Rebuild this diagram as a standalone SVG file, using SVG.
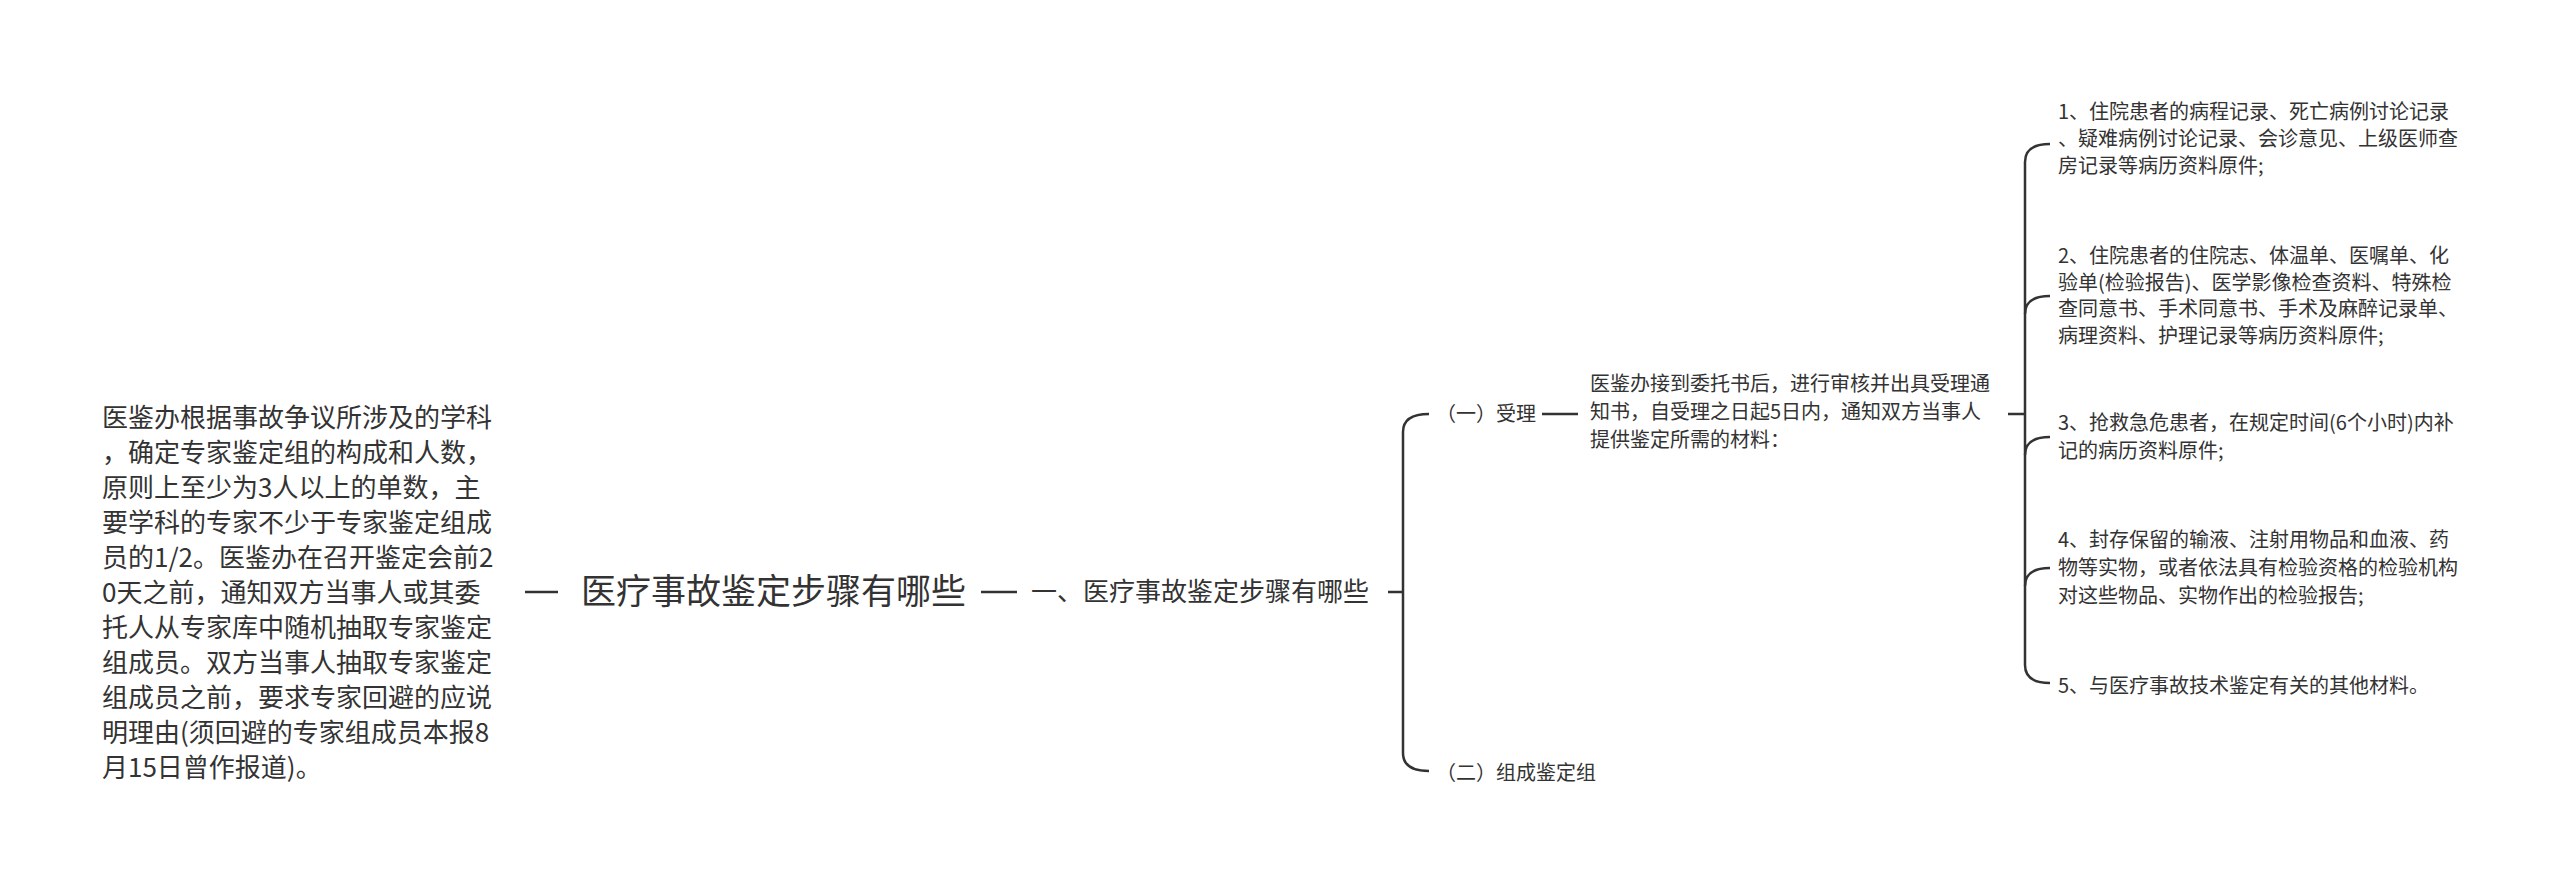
<svg xmlns="http://www.w3.org/2000/svg" width="2560" height="882" viewBox="0 0 2560 882">
<style>
text{font-family:"Noto Sans CJK SC","Liberation Sans",sans-serif;fill:#333}
.l{font-size:26px}.r{font-size:35px}.m{font-size:26px}.s{font-size:20px}
.c{fill:none;stroke:#333;stroke-width:2.5}
</style>
<rect width="2560" height="882" fill="#fff"/>
<g id="connectors">
<path class="c" d="M525,592H558M981,592H1017M1388,592H1403"/>
<path class="c" d="M1429,414Q1403,414 1403,432V753Q1403,771 1429,771"/>
<path class="c" d="M1542,414H1578M2008,414H2025"/>
<path class="c" d="M2050,144Q2025,144 2025,162V665Q2025,683 2050,683"/>
<path class="c" d="M2025,314Q2025,296 2050,296M2025,455Q2025,437 2050,437M2025,586Q2025,568 2050,568"/>
</g>
<g id="left"><text class="l" x="102" y="427">
<tspan x="102">医鉴办根据事故争议所涉及的学科</tspan>
<tspan x="102" dy="35">，确定专家鉴定组的构成和人数，</tspan>
<tspan x="102" dy="35">原则上至少为3人以上的单数，主</tspan>
<tspan x="102" dy="35">要学科的专家不少于专家鉴定组成</tspan>
<tspan x="102" dy="35">员的1/2。医鉴办在召开鉴定会前2</tspan>
<tspan x="102" dy="35">0天之前，通知双方当事人或其委</tspan>
<tspan x="102" dy="35">托人从专家库中随机抽取专家鉴定</tspan>
<tspan x="102" dy="35">组成员。双方当事人抽取专家鉴定</tspan>
<tspan x="102" dy="35">组成员之前，要求专家回避的应说</tspan>
<tspan x="102" dy="35">明理由(须回避的专家组成员本报8</tspan>
<tspan x="102" dy="35">月15日曾作报道)。</tspan></text></g>
<g id="root"><text class="r" x="581" y="604">医疗事故鉴定步骤有哪些</text></g>
<g id="n1"><text class="m" x="1031" y="601">一、医疗事故鉴定步骤有哪些</text></g>
<g id="n11"><text class="s" x="1436" y="421">（一）受理</text></g>
<g id="n12"><text class="s" x="1436" y="780">（二）组成鉴定组</text></g>
<g id="n111"><text class="s" x="1590" y="391">
<tspan x="1590">医鉴办接到委托书后，进行审核并出具受理通</tspan>
<tspan x="1590" dy="28">知书，自受理之日起5日内，通知双方当事人</tspan>
<tspan x="1590" dy="28">提供鉴定所需的材料：</tspan></text></g>
<g id="i1"><text class="s" x="2058" y="119">
<tspan x="2058">1、住院患者的病程记录、死亡病例讨论记录</tspan>
<tspan x="2058" dy="27">、疑难病例讨论记录、会诊意见、上级医师查</tspan>
<tspan x="2058" dy="27">房记录等病历资料原件;</tspan></text></g>
<g id="i2"><text class="s" x="2058" y="263">
<tspan x="2058">2、住院患者的住院志、体温单、医嘱单、化</tspan>
<tspan x="2058" dy="26.5">验单(检验报告)、医学影像检查资料、特殊检</tspan>
<tspan x="2058" dy="26.5">查同意书、手术同意书、手术及麻醉记录单、</tspan>
<tspan x="2058" dy="26.5">病理资料、护理记录等病历资料原件;</tspan></text></g>
<g id="i3"><text class="s" x="2058" y="430">
<tspan x="2058">3、抢救急危患者，在规定时间(6个小时)内补</tspan>
<tspan x="2058" dy="28">记的病历资料原件;</tspan></text></g>
<g id="i4"><text class="s" x="2058" y="547">
<tspan x="2058">4、封存保留的输液、注射用物品和血液、药</tspan>
<tspan x="2058" dy="28">物等实物，或者依法具有检验资格的检验机构</tspan>
<tspan x="2058" dy="28">对这些物品、实物作出的检验报告;</tspan></text></g>
<g id="i5"><text class="s" x="2058" y="693">5、与医疗事故技术鉴定有关的其他材料。</text></g>
</svg>
